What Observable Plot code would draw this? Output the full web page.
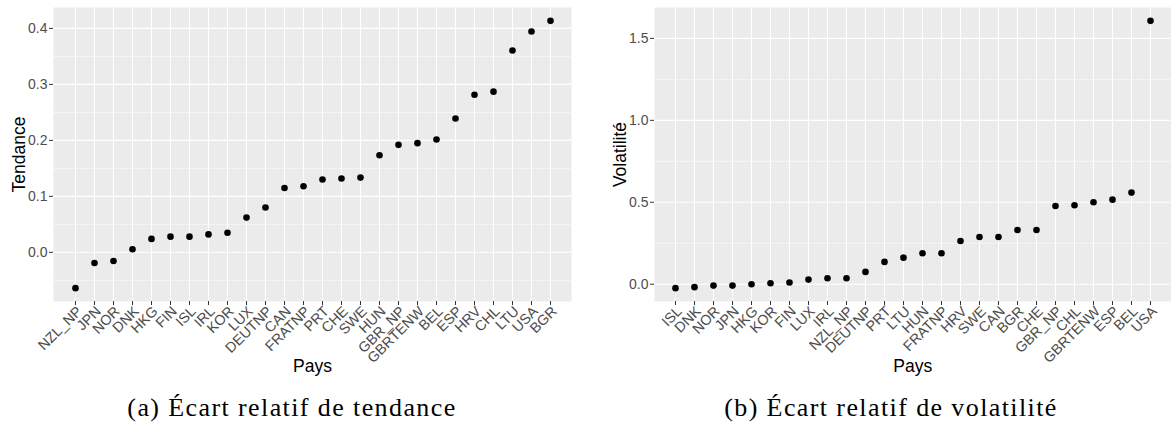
<!DOCTYPE html>
<html>
<head>
<meta charset="utf-8">
<script src="https://cdn.jsdelivr.net/npm/d3@7"></script>
<script src="https://cdn.jsdelivr.net/npm/@observablehq/plot@0.6"></script>
<style>
  body { margin: 0; background: #fff; }
  #fig { position: relative; width: 1171px; height: 426px; overflow: hidden; }
  .panel { position: absolute; top: 0; }
  .caption {
    position: absolute; top: 395px; width: 420px; text-align: center;
    font-family: "Liberation Serif", "Times New Roman", serif;
    font-size: 26px; line-height: 26px; letter-spacing: 1.4px;
    color: #000; white-space: nowrap;
  }
</style>
</head>
<body>
<div id="fig">
  <div class="panel" id="pa" style="left:0px"></div>
  <div class="panel" id="pb" style="left:585px"></div>
  <div class="caption" style="left:82px">(a) Écart relatif de tendance</div>
  <div class="caption" style="left:681px">(b) Écart relatif de volatilité</div>
</div>
<script>
// (a) relative trend gap by country, sorted ascending
const paysA = ["NZL_NP","JPN","NOR","DNK","HKG","FIN","ISL","IRL","KOR","LUX","DEUTNP","CAN","FRATNP",
  "PRT","CHE","SWE","HUN","GBR_NP","GBRTENW","BEL","ESP","HRV","CHL","LTU","USA","BGR"];
const tendance = [-0.064,-0.019,-0.0155,0.0055,0.024,0.028,0.028,0.032,0.035,0.062,0.080,0.115,0.118,
  0.130,0.132,0.1335,0.1735,0.192,0.195,0.2015,0.239,0.2815,0.287,0.3605,0.3945,0.4135];

// (b) relative volatility gap by country, sorted ascending
const paysB = ["ISL","DNK","NOR","JPN","HKG","KOR","FIN","LUX","IRL","NZL_NP","DEUTNP","PRT","LTU","HUN",
  "FRATNP","HRV","SWE","CAN","BGR","CHE","GBR_NP","CHL","GBRTENW","ESP","BEL","USA"];
const volatilite = [-0.024,-0.018,-0.0085,-0.0085,0.0,0.006,0.010,0.028,0.0365,0.0365,0.075,0.136,0.162,0.189,
  0.189,0.264,0.288,0.288,0.331,0.331,0.477,0.482,0.500,0.516,0.559,1.607];

// y-axis breaks
const ticksA = [0.0, 0.1, 0.2, 0.3, 0.4];
const minorA = [-0.05, 0.05, 0.15, 0.25, 0.35];
const ticksB = [0.0, 0.5, 1.0, 1.5];
const minorB = [0.25, 0.75, 1.25];

const H = 392;          // svg height
const panelBottom = 301;
const panelTop = 7;

// 5% expansion of a continuous domain on both sides
function expand(values) {
  const [lo, hi] = d3.extent(values);
  const pad = (hi - lo) * 0.05;
  return [lo - pad, hi + pad];
}

function panel({pays, values, ticks, minor, ylabel, width, marginLeft, marginRight}) {
  const data = pays.map((p, i) => ({pays: p, v: values[i]}));
  return Plot.plot({
    width, height: H,
    marginTop: panelTop, marginBottom: H - panelBottom,
    marginLeft, marginRight,
    style: {fontFamily: "'Liberation Sans', Arial, sans-serif", background: "transparent", overflow: "visible"},
    x: {type: "point", domain: pays, padding: 0.6},
    y: {domain: expand(values)},
    marks: [
      Plot.frame({fill: "#ebebeb", stroke: null}),
      Plot.ruleY(minor, {stroke: "#ffffff", strokeWidth: 0.55}),
      Plot.ruleY(ticks, {stroke: "#ffffff", strokeWidth: 1.1}),
      Plot.ruleX(pays, {stroke: "#ffffff", strokeWidth: 1.1}),
      Plot.dot(data, {x: "pays", y: "v", r: 3.3, fill: "#000", stroke: null}),
      Plot.axisY(ticks, {
        tickSize: 4, tickPadding: 2, stroke: "#333333", fill: "#4d4d4d",
        fontSize: 14, tickFormat: d3.format(".1f"), label: null
      }),
      // tick marks only; the slanted country names are drawn below
      Plot.axisX({
        tickSize: 4, stroke: "#333333", tickFormat: () => "", label: null
      }),
      Plot.text(pays, {
        x: d => d, frameAnchor: "bottom", dy: 3.5, rotate: -45,
        textAnchor: "end", lineAnchor: "top", fontSize: 14.3, fill: "#4d4d4d"
      }),
      Plot.text([ylabel], {
        frameAnchor: "left", rotate: -90, dx: -34.4, fontSize: 17.5, fill: "#000", textAnchor: "middle"
      }),
      Plot.text(["Pays"], {
        frameAnchor: "bottom", dy: 70.6, fontSize: 17.5, fill: "#000", textAnchor: "middle"
      })
    ]
  });
}

document.getElementById("pa").append(panel({
  pays: paysA, values: tendance, ticks: ticksA, minor: minorA, ylabel: "Tendance",
  width: 585, marginLeft: 53, marginRight: 14
}));
document.getElementById("pb").append(panel({
  pays: paysB, values: volatilite, ticks: ticksB, minor: minorB, ylabel: "Volatilité",
  width: 586, marginLeft: 69, marginRight: 0.5
}));
</script>
</body>
</html>
